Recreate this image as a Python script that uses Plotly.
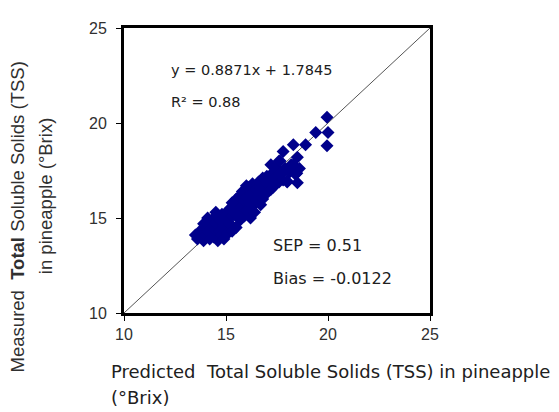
import plotly.graph_objects as go

# predicted TSS (°Brix)
predicted = [
    13.5, 13.6, 13.7, 13.8, 13.8, 13.9, 14.0, 14.0, 14.1, 14.2, 14.2, 14.3, 14.3,
    14.4, 14.4, 14.5, 14.5, 14.6, 14.6, 14.7, 14.7, 14.8, 14.8, 14.9, 14.9, 15.0,
    15.0, 15.1, 15.1, 15.2, 15.3, 15.3, 15.5, 14.1, 13.9, 14.5,
    15.4, 15.5, 15.5, 15.6, 15.6, 15.7, 15.7, 15.8, 15.8, 15.9, 15.9, 16.0, 16.0,
    16.1, 16.1, 16.2, 16.2, 16.3, 16.3, 16.4, 16.4, 16.5, 16.5, 16.6, 16.6, 16.7,
    16.7, 16.8, 16.8, 16.9, 17.0, 17.0, 15.6, 15.3, 16.0, 15.2, 16.9, 17.2,
    17.1, 17.2, 17.3, 17.3, 17.4, 17.5, 17.6, 17.6, 17.7, 17.8, 17.8, 17.9, 18.0,
    18.1, 18.2, 18.3, 18.4, 18.5, 18.5, 18.6, 18.9, 19.4, 19.95, 20.0, 19.95,
    17.65, 18.3, 18.47, 18.0, 17.65,
]

# measured TSS (°Brix)
measured = [
    14.1, 13.9, 14.2, 14.0, 14.4, 13.8, 14.1, 14.6, 14.3, 13.9, 14.8, 14.2, 14.5,
    15.0, 14.0, 14.4, 14.7, 13.8, 15.1, 14.3, 14.9, 14.1, 15.2, 14.6, 13.9, 14.4,
    15.0, 14.2, 15.4, 14.7, 15.1, 14.3, 14.5, 15.0, 14.7, 15.3,
    15.6, 15.2, 16.0, 15.4, 15.8, 14.9, 16.2, 15.5, 16.4, 15.1, 15.9, 16.1, 15.4,
    16.6, 15.8, 16.3, 15.0, 15.6, 16.8, 16.1, 15.3, 16.5, 15.9, 16.9, 16.2, 15.7,
    16.6, 17.1, 16.0, 16.4, 16.8, 17.2, 15.0, 15.8, 16.7, 15.5, 16.2, 16.5,
    17.0, 17.8, 16.6, 17.4, 17.1, 17.6, 16.9, 18.0, 17.3, 18.5, 17.0, 17.6, 16.9,
    17.4, 17.8, 18.85, 17.3, 16.85, 18.2, 17.6, 18.85, 19.5, 20.3, 19.5, 18.8,
    18.0, 17.8, 17.36, 16.93, 17.3,
]

one_to_one = [10, 25]
ticks = [10, 15, 20, 25]

equation = "y = 0.8871x + 1.7845"
r_squared = "R² = 0.88"
sep_text = "SEP = 0.51"
bias_text = "Bias = -0.0122"

# the page body adds an 8px margin, so the figure is drawn 8px smaller
fig = go.Figure()

fig.add_trace(
    go.Scatter(
        x=one_to_one,
        y=one_to_one,
        mode="lines",
        line=dict(color="#555555", width=1),
        hoverinfo="skip",
        showlegend=False,
    )
)

fig.add_trace(
    go.Scatter(
        x=predicted,
        y=measured,
        mode="markers",
        marker=dict(symbol="diamond", size=10, color="#00008B"),
        showlegend=False,
    )
)

axis_style = dict(
    range=[10, 25],
    tickvals=ticks,
    showgrid=False,
    zeroline=False,
    showline=True,
    linecolor="black",
    linewidth=3,
    mirror=True,
    ticks="outside",
    ticklen=5,
    tickcolor="black",
    tickfont=dict(family="Liberation Sans", size=16, color="#303030"),
)

fig.update_xaxes(**axis_style)
fig.update_yaxes(**axis_style, ticklabelstandoff=6)

top_font = dict(family="DejaVu Sans", size=14.5, color="#202020")
low_font = dict(family="DejaVu Sans", size=16, color="#202020")
outer = dict(family="DejaVu Sans", size=18, color="#202020")
side = dict(family="Liberation Sans", size=18.5, color="#303030")

annotations = [
    dict(x=12.2, y=22.8, xref="x", yref="y", text=equation, font=top_font),
    dict(x=12.2, y=21.1, xref="x", yref="y", text=r_squared, font=top_font),
    dict(x=17.2, y=13.54, xref="x", yref="y", text=sep_text, font=low_font),
    dict(x=17.2, y=11.82, xref="x", yref="y", text=bias_text, font=low_font),
    dict(x=-0.049, y=-0.205, xref="paper", yref="paper",
         text="Predicted  Total Soluble Solids (TSS) in pineapple", font=outer),
    dict(x=-0.049, y=-0.295, xref="paper", yref="paper",
         text="(°Brix)", font=outer),
]
for a in annotations:
    a.update(showarrow=False, xanchor="left", yanchor="middle")

annotations += [
    dict(x=-0.345, y=0.337, xref="paper", yref="paper",
         text="Measured  <b>Total</b> Soluble Solids (TSS)", textangle=-90,
         showarrow=False, xanchor="center", yanchor="middle", font=side),
    dict(x=-0.258, y=0.41, xref="paper", yref="paper",
         text="in pineapple (°Brix)", textangle=-90,
         showarrow=False, xanchor="center", yanchor="middle", font=side),
]

fig.update_layout(
    width=551,
    height=404,
    margin=dict(l=116, r=129, t=17, b=99),
    plot_bgcolor="white",
    paper_bgcolor="white",
    annotations=annotations,
)

fig.write_html("out.html")
